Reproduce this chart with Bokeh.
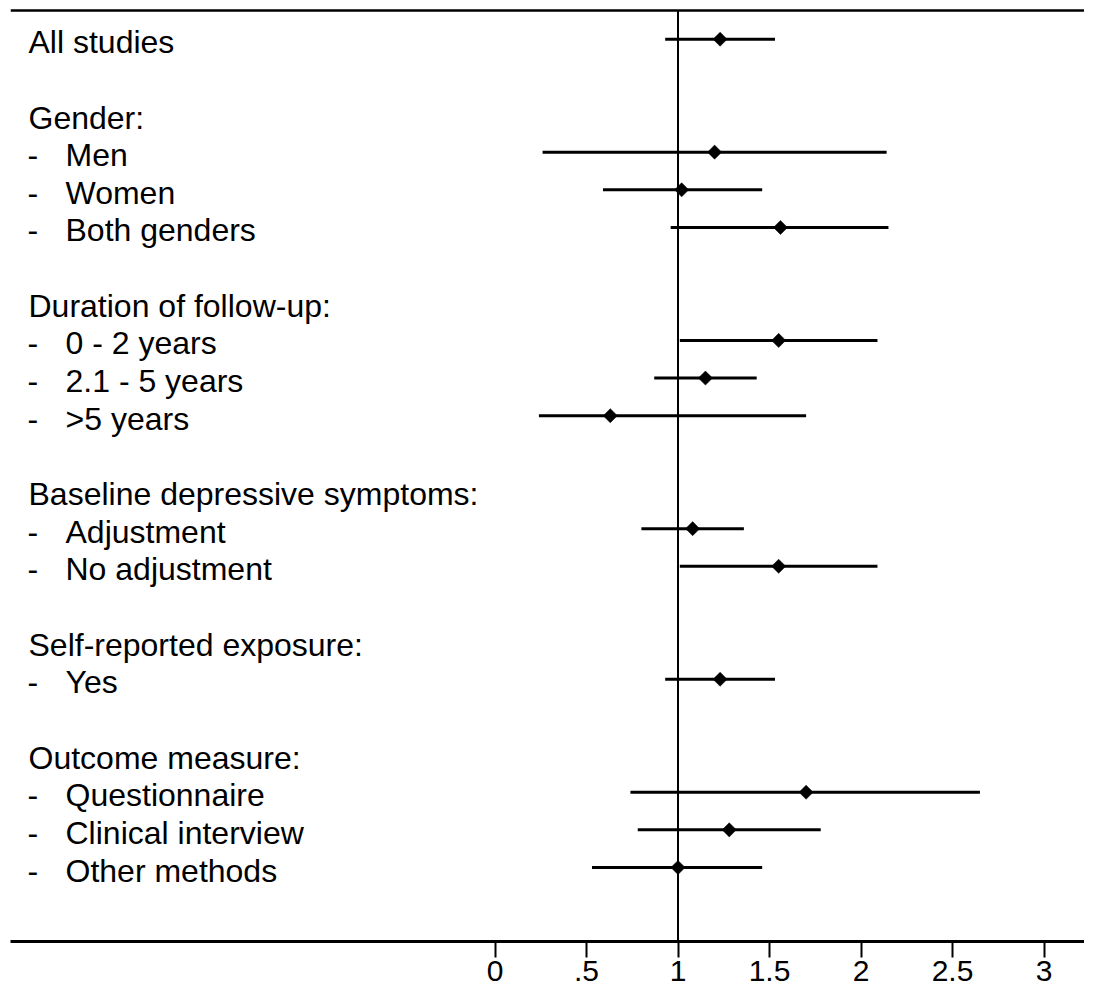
from bokeh.plotting import figure
from bokeh.models import Range1d, LinearAxis, FixedTicker, Span, ColumnDataSource
from bokeh.core.properties import value
from bokeh.embed import file_html
from bokeh.resources import INLINE
import math

# ---------------- data ----------------
header_labels = ["Gender:", "Duration of follow-up:", "Baseline depressive symptoms:",
                 "Self-reported exposure:", "Outcome measure:"]
header_rows = [2, 7, 12, 16, 19]

overall_label = ["All studies"]
overall_row = [0]

item_labels = ["Men", "Women", "Both genders",
               "0 - 2 years", "2.1 - 5 years", ">5 years",
               "Adjustment", "No adjustment",
               "Yes",
               "Questionnaire", "Clinical interview", "Other methods"]
item_rows = [3, 4, 5, 8, 9, 10, 13, 14, 17, 20, 21, 22]

est_rows = [0, 3, 4, 5, 8, 9, 10, 13, 14, 17, 20, 21, 22]
estimate = [1.23, 1.20, 1.02, 1.56, 1.55, 1.15, 0.63, 1.08, 1.55, 1.23, 1.70, 1.28, 1.00]
lower    = [0.93, 0.26, 0.59, 0.96, 1.01, 0.87, 0.24, 0.80, 1.01, 0.93, 0.74, 0.78, 0.53]
upper    = [1.53, 2.14, 1.46, 2.15, 2.09, 1.43, 1.70, 1.36, 2.09, 1.53, 2.65, 1.78, 1.46]

tick_values = [0, 0.5, 1, 1.5, 2, 2.5, 3]
tick_labels = ["0", ".5", "1", "1.5", "2", "2.5", "3"]
null_value = 1

# ---------------- layout (figure pixel coordinates) ----------------
W, H = 1084, 989
PX_PER_UNIT = 183.0
ZERO_PX = 494.5          # x pixel of value 0
FRAME_LEFT, FRAME_RIGHT = 10, W
ROW0_PX, ROW_STEP = 38.7, 37.65
FRAME_TOP, FRAME_BOTTOM = 0, 941
TOP_RULE_PX = 10

x_start = (FRAME_LEFT - ZERO_PX) / PX_PER_UNIT
x_end = (FRAME_RIGHT - ZERO_PX) / PX_PER_UNIT
y_bottom = (FRAME_BOTTOM - ROW0_PX) / ROW_STEP
y_top = (FRAME_TOP - ROW0_PX) / ROW_STEP
top_line_y = (TOP_RULE_PX - ROW0_PX) / ROW_STEP

p = figure(width=W, height=H, output_backend="svg", toolbar_location=None,
           x_range=Range1d(x_start, x_end), y_range=Range1d(y_bottom, y_top),
           x_axis_type=None, y_axis_type=None, min_border=0,
           min_border_left=FRAME_LEFT, min_border_right=0, min_border_top=FRAME_TOP,
           min_border_bottom=H - FRAME_BOTTOM)
p.outline_line_color = None
p.background_fill_color = "white"
p.border_fill_color = "white"

FONT = "Liberation Sans"

axis = LinearAxis(ticker=FixedTicker(ticks=tick_values),
                  major_label_overrides={v: l for v, l in zip(tick_values, tick_labels)})
axis.axis_line_width = 3
axis.axis_line_color = "black"
axis.major_tick_in = 0
axis.major_tick_out = 16
axis.major_tick_line_width = 2
axis.major_tick_line_color = "black"
axis.minor_tick_line_color = None
axis.major_label_standoff = 3
axis.major_label_text_font = FONT
axis.major_label_text_font_size = "30px"
axis.major_label_text_color = "black"
p.add_layout(axis, "below")

# top rule
p.add_layout(Span(location=top_line_y, dimension="width", line_color="black", line_width=2.5))

# null line
p.segment(x0=[null_value], x1=[null_value], y0=[top_line_y], y1=[y_bottom],
          line_color="black", line_width=2)

src = ColumnDataSource(dict(y=est_rows, est=estimate, lo=lower, hi=upper))
p.segment(x0="lo", x1="hi", y0="y", y1="y", source=src, line_color="black",
          line_width=3, line_cap="butt")
p.scatter(x="est", y="y", source=src, marker="square", size=10, angle=math.pi / 4,
          fill_color="black", line_color="black", line_width=0.5)

# labels
txt_kw = dict(text_font=value(FONT), text_font_size=value("32px"), text_color="black",
              text_align="left", text_baseline="middle", y_offset=3)
p.text(x=[x_start] * len(overall_row), y=overall_row, text=overall_label, x_offset=18, **txt_kw)
p.text(x=[x_start] * len(header_rows), y=header_rows, text=header_labels, x_offset=18, **txt_kw)
p.text(x=[x_start] * len(item_rows), y=item_rows, text=["-"] * len(item_rows), x_offset=17, **txt_kw)
p.text(x=[x_start] * len(item_rows), y=item_rows, text=item_labels, x_offset=55, **txt_kw)

open("out.html", "w").write(file_html(p, INLINE))
